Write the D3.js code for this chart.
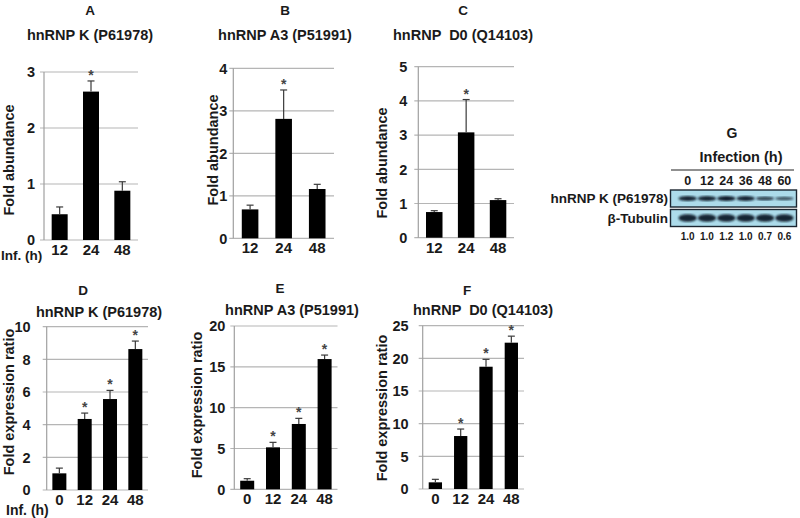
<!DOCTYPE html>
<html><head><meta charset="utf-8">
<script src="https://cdn.jsdelivr.net/npm/d3@7"></script>
<style>
body{margin:0;background:#fff;}
svg text{font-family:"Liberation Sans",Arial,sans-serif;font-weight:bold;fill:#1a1a1a;}
</style></head>
<body><svg id="c" width="800" height="518"></svg>
<script>
// ---------- data ----------
const catsTop = ["12","24","48"];
const catsBottom = ["0","12","24","48"];

const aValues = [0.46, 2.65, 0.88];
const aErrors = [0.13, 0.19, 0.16];
const aStars  = [false, true, false];

const bValues = [0.68, 2.81, 1.16];
const bErrors = [0.10, 0.68, 0.11];
const bStars  = [false, true, false];

const cValues = [0.75, 3.08, 1.10];
const cErrors = [0.04, 0.96, 0.04];
const cStars  = [false, true, false];

const dValues = [1.02, 4.35, 5.57, 8.63];
const dErrors = [0.32, 0.36, 0.53, 0.49];
const dStars  = [false, true, true, true];

const eValues = [1.05, 5.14, 8.00, 15.95];
const eErrors = [0.25, 0.61, 0.69, 0.49];
const eStars  = [false, true, true, true];

const fValues = [1.02, 8.11, 18.72, 22.40];
const fErrors = [0.46, 1.07, 1.13, 1.00];
const fStars  = [false, true, true, true];

const aTicks = [0,1,2,3];
const bTicks = [0,1,2,3,4];
const cTicks = [0,1,2,3,4,5];
const dTicks = [0,2,4,6,8,10];
const eTicks = [0,5,10,15,20];
const fTicks = [0,5,10,15,20,25];

const blotLanes = ["0","12","24","36","48","60"];
const blotRatios = ["1.0","1.0","1.2","1.0","0.7","0.6"];
const blotK = [1.0, 1.0, 1.2, 1.0, 0.7, 0.6];
const blotTub = [1.0, 1.0, 1.0, 1.0, 1.0, 1.0];

// ---------- drawing ----------
const svg = d3.select("#c");

function panel(o){
  const g = svg.append("g");
  const x = d3.scaleBand().domain(o.cats).range([o.x0, o.x1]).paddingInner(o.pad).paddingOuter(o.pad/2);
  const y = d3.scaleLinear().domain([0, o.max]).range([o.y0, o.y1]);
  g.selectAll("line.grid").data(o.ticks).join("line")
    .attr("x1", o.x0 - 4).attr("x2", o.x1)
    .attr("y1", d => y(d)).attr("y2", d => y(d))
    .attr("stroke", "#b5b5b5").attr("stroke-width", 1.2);
  g.append("line").attr("x1", o.x0).attr("x2", o.x0).attr("y1", y(0)).attr("y2", y(o.max))
    .attr("stroke", "#a0a0a0").attr("stroke-width", 1.2);
  g.selectAll("text.yt").data(o.ticks).join("text")
    .attr("x", o.x0 - o.tpad).attr("y", d => y(d)).attr("dy", "0.36em")
    .attr("text-anchor", "end").attr("font-size", 14.5).text(d => d);
  const data = o.cats.map((c,i) => ({c, v:o.values[i], e:o.errors[i], s:o.stars[i]}));
  const bw = o.bw, off = (x.bandwidth() - bw)/2;
  g.selectAll("rect.bar").data(data).join("rect")
    .attr("x", d => x(d.c) + off).attr("width", bw)
    .attr("y", d => y(d.v)).attr("height", d => y(0) - y(d.v))
    .attr("fill", "#000");
  const cx = d => x(d.c) + x.bandwidth()/2;
  g.selectAll("line.err").data(data).join("line")
    .attr("x1", cx).attr("x2", cx).attr("y1", d => y(d.v)).attr("y2", d => y(d.v + d.e))
    .attr("stroke", "#3a3a3a").attr("stroke-width", 1.2);
  g.selectAll("line.cap").data(data).join("line")
    .attr("x1", d => cx(d) - 3.5).attr("x2", d => cx(d) + 3.5)
    .attr("y1", d => y(d.v + d.e)).attr("y2", d => y(d.v + d.e))
    .attr("stroke", "#3a3a3a").attr("stroke-width", 1.2);
  g.selectAll("text.star").data(data.filter(d => d.s)).join("text")
    .attr("x", cx).attr("y", d => y(d.v + d.e) - 1)
    .attr("text-anchor", "middle").attr("font-size", 14).style("fill", "#444")
    .attr("font-weight", "normal").text("*");
  g.selectAll("text.xt").data(o.cats).join("text")
    .attr("x", d => x(d) + x.bandwidth()/2).attr("y", y(0) + o.xly)
    .attr("text-anchor", "middle").attr("font-size", 15).text(d => d);
  g.append("text").attr("transform", `translate(${o.ylx},${o.yly}) rotate(-90)`)
    .attr("text-anchor", "middle").attr("font-size", 14.5).text(o.ylabel);
  g.append("text").attr("x", o.lx).attr("y", o.ly).attr("text-anchor", "middle")
    .attr("font-size", 13.5).text(o.letter);
  g.append("text").attr("x", o.tx).attr("y", o.ty).attr("text-anchor", "middle")
    .attr("font-size", 14.5).attr("xml:space","preserve").text(o.title);
}

panel({cats:catsTop, values:aValues, errors:aErrors, stars:aStars, ticks:aTicks, max:3,
  x0:44, x1:138, y0:240, y1:72, pad:0.48, bw:16, tpad:9, xly:15,
  ylabel:"Fold abundance", ylx:14, yly:160, letter:"A", lx:90, ly:15, title:"hnRNP K (P61978)", tx:90, ty:40});
panel({cats:catsTop, values:bValues, errors:bErrors, stars:bStars, ticks:bTicks, max:4,
  x0:233.3, x1:334, y0:238.3, y1:68.3, pad:0.5, bw:16.6, tpad:6, xly:15,
  ylabel:"Fold abundance", ylx:218, yly:150, letter:"B", lx:285, ly:15, title:"hnRNP A3 (P51991)", tx:285, ty:40});
panel({cats:catsTop, values:cValues, errors:cErrors, stars:cStars, ticks:cTicks, max:5,
  x0:418.3, x1:514, y0:237.7, y1:66.7, pad:0.48, bw:16.5, tpad:11, xly:15,
  ylabel:"Fold abundance", ylx:387, yly:163, letter:"C", lx:463, ly:15, title:"hnRNP  D0 (Q14103)", tx:463, ty:40});
panel({cats:catsBottom, values:dValues, errors:dErrors, stars:dStars, ticks:dTicks, max:10,
  x0:46.7, x1:148, y0:490, y1:326.7, pad:0.45, bw:14, tpad:16, xly:15,
  ylabel:"Fold expression ratio", ylx:14, yly:402, letter:"D", lx:83, ly:295, title:"hnRNP K (P61978)", tx:99, ty:317});
panel({cats:catsBottom, values:eValues, errors:eErrors, stars:eStars, ticks:eTicks, max:20,
  x0:234.3, x1:337.5, y0:489.3, y1:326, pad:0.45, bw:14, tpad:9, xly:15,
  ylabel:"Fold expression ratio", ylx:202, yly:405, letter:"E", lx:280, ly:293, title:"hnRNP A3 (P51991)", tx:292, ty:315});
panel({cats:catsBottom, values:fValues, errors:fErrors, stars:fStars, ticks:fTicks, max:25,
  x0:422.7, x1:524, y0:489, y1:325.7, pad:0.47, bw:13.3, tpad:14, xly:15,
  ylabel:"Fold expression ratio", ylx:387, yly:408, letter:"F", lx:467, ly:295, title:"hnRNP  D0 (Q14103)", tx:483, ty:315});

svg.append("text").attr("x", 1).attr("y", 260).attr("font-size", 13.5).text("Inf. (h)");
svg.append("text").attr("x", 6).attr("y", 515).attr("font-size", 14).text("Inf. (h)");

// ---------- blot panel G ----------
const bx = d3.scaleBand().domain(blotLanes).range([677, 795]).padding(0.1);
const defs = svg.append("defs");
defs.append("filter").attr("id","blur").append("feGaussianBlur").attr("stdDeviation", 1.1);
svg.append("text").attr("x", 732).attr("y", 138).attr("text-anchor","middle").attr("font-size",14).text("G");
svg.append("text").attr("x", 741).attr("y", 162).attr("text-anchor","middle").attr("font-size",14.5).text("Infection (h)");
svg.append("line").attr("x1", 671).attr("x2", 794).attr("y1", 170).attr("y2", 170).attr("stroke","#222").attr("stroke-width",1.2);
svg.selectAll("text.lane").data(blotLanes).join("text")
  .attr("x", d => bx(d) + bx.bandwidth()/2).attr("y", 185).attr("text-anchor","middle").attr("font-size",12.5).text(d => d);

const rows = [{label:"hnRNP K (P61978)", y:190, h:17, vals:blotK, bh:5},
              {label:"β-Tubulin", y:209.5, h:17, vals:blotTub, bh:7.5}];
rows.forEach(r => {
  svg.append("rect").attr("x", 670.5).attr("y", r.y).attr("width", 126).attr("height", r.h)
    .attr("fill", "#acdbea").attr("stroke", "#1b2530").attr("stroke-width", 1.4);
  svg.selectAll(null).data(blotLanes).join("ellipse")
    .attr("cx", d => bx(d) + bx.bandwidth()/2).attr("cy", r.y + r.h/2)
    .attr("rx", bx.bandwidth()/2 + 0.5).attr("ry", (d,i) => r.bh/2 * Math.min(1, r.vals[i]*0.9 + 0.15))
    .attr("fill", "#0d1a2a").attr("opacity", (d,i) => Math.min(1, 0.35 + 0.6*r.vals[i]))
    .attr("filter","url(#blur)");
  svg.append("text").attr("x", 668).attr("y", r.y + r.h/2).attr("dy","0.36em")
    .attr("text-anchor","end").attr("font-size",13.5).text(r.label);
});
svg.selectAll("text.ratio").data(blotRatios).join("text")
  .attr("x", (d,i) => bx(blotLanes[i]) + bx.bandwidth()/2).attr("y", 240)
  .attr("text-anchor","middle").attr("font-size",10).text(d => d);
</script></body></html>
